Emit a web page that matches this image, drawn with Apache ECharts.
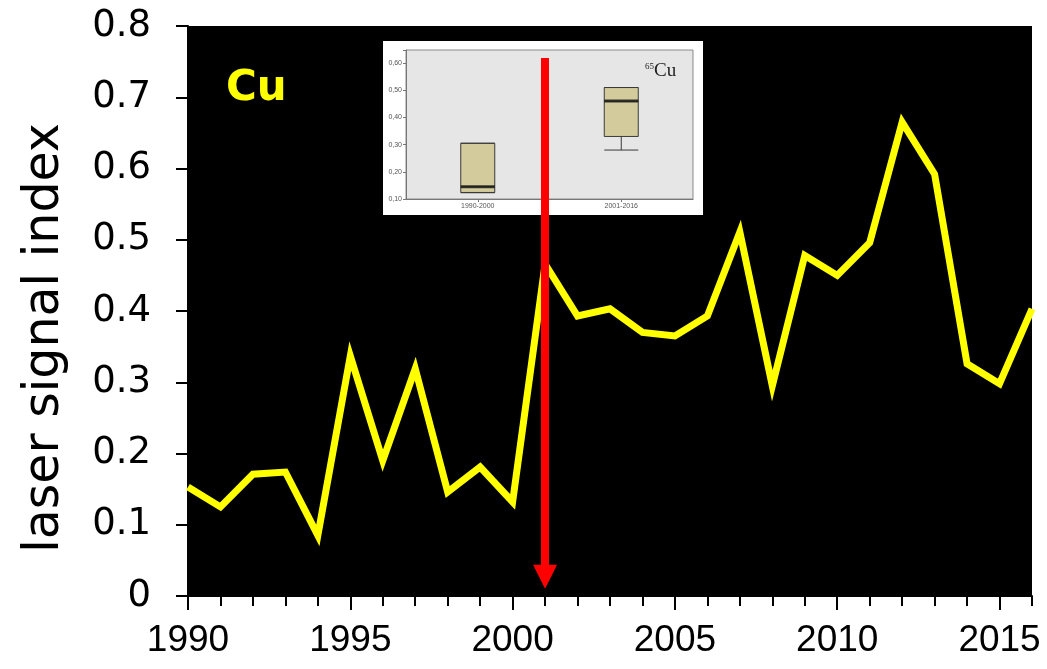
<!DOCTYPE html>
<html>
<head>
<meta charset="utf-8">
<script src="https://cdn.jsdelivr.net/npm/echarts@6/dist/echarts.min.js"></script>
<style>html,body{margin:0;padding:0;background:#fff;}#c{width:1047px;height:669px;}</style>
</head>
<body>
<div id="c"></div>
<script>
// ---- main chart data ----
const years = ['1990','1991','1992','1993','1994','1995','1996','1997','1998','1999','2000','2001','2002','2003','2004','2005','2006','2007','2008','2009','2010','2011','2012','2013','2014','2015','2016'];
const cuValues = [0.153,0.125,0.171,0.174,0.085,0.337,0.190,0.319,0.146,0.181,0.132,0.466,0.393,0.403,0.370,0.365,0.393,0.511,0.295,0.478,0.450,0.496,0.665,0.592,0.326,0.298,0.403];
const yTicks = [0,0.1,0.2,0.3,0.4,0.5,0.6,0.7,0.8];
const xLabelYears = ['1990','1995','2000','2005','2010','2015'];
// red arrow marking the break year
const arrowYear = '2001';
const arrowFrom = 0.755;
const arrowTo = 0.027;
// ---- inset box plot data ----
const insetCategories = ['1990-2000','2001-2016'];
// [min, Q1, median, Q3, max]
const insetBoxes = [[0.123,0.124,0.145,0.305,0.305],[0.28,0.33,0.46,0.51,0.51]];
const insetMedians = [0.145,0.46];
const insetTicks = [0.1,0.2,0.3,0.4,0.5,0.6];

const chart = echarts.init(document.getElementById('c'), null, {renderer:'canvas'});
const option = {
  animation:false,
  backgroundColor:'#ffffff',
  grid:[
    {left:188, right:15, top:26, bottom:73, show:true, backgroundColor:'#000000', borderWidth:0, z:0},
    {left:406, width:287, top:50, height:149, show:true, backgroundColor:'#e6e6e6', borderColor:'#8a8a8a', borderWidth:1, z:2}
  ],
  graphic:[
    {type:'rect', shape:{x:383, y:41, width:320, height:174}, style:{fill:'#ffffff'}, z:1, silent:true},
    {type:'text', left:226, top:68, style:{text:'Cu', fill:'#ffff00', font:'bold 42px "DejaVu Sans"'}, z:5},
    {type:'text', left:645, top:62, z:6, style:{
      text:'{s|65}{b|Cu}', rich:{
        s:{fontSize:9, fontFamily:'Liberation Serif', fill:'#222', verticalAlign:'top', padding:[0,0,9,0]},
        b:{fontSize:19, fontFamily:'Liberation Serif', fill:'#222'}
      }}}
  ],
  xAxis:[
    {type:'category', gridIndex:0, data:years, boundaryGap:false, position:'bottom',
     axisLine:{show:true, lineStyle:{color:'#000', width:2}},
     axisTick:{show:true, interval:0, length:10, lineStyle:{color:'#000', width:2}},
     axisLabel:{show:false}, splitLine:{show:false}, z:1},
    {type:'category', gridIndex:0, data:years, boundaryGap:false, position:'bottom',
     axisLine:{show:false},
     axisTick:{show:true, length:14, interval:function(i,v){return xLabelYears.indexOf(v)>=0;}, lineStyle:{color:'#000', width:2}},
     axisLabel:{show:true, interval:function(i,v){return xLabelYears.indexOf(v)>=0;}, margin:26,
       color:'#000', fontFamily:'Liberation Sans', fontSize:37},
     splitLine:{show:false}, z:1},
    {type:'category', gridIndex:1, data:insetCategories, position:'bottom',
     axisLine:{show:true, lineStyle:{color:'#777', width:1}},
     axisTick:{show:true, alignWithLabel:true, length:3, lineStyle:{color:'#777'}},
     axisLabel:{color:'#555', fontSize:7, fontFamily:'Liberation Sans', margin:4},
     splitLine:{show:false}, z:3}
  ],
  yAxis:[
    {type:'value', gridIndex:0, min:0, max:0.8, interval:0.1,
     name:'laser signal index', nameLocation:'middle', nameGap:118, nameRotate:90,
     nameTextStyle:{color:'#000', fontFamily:'DejaVu Sans', fontSize:49, padding:[0,54,0,0]},
     axisLine:{show:true, lineStyle:{color:'#000', width:2}},
     axisTick:{show:true, length:12, lineStyle:{color:'#000', width:2}},
     axisLabel:{color:'#000', fontFamily:'DejaVu Sans', fontSize:37, margin:37,
       formatter:function(v){var r=Math.round(v*10)/10; return r===0?'0':r.toFixed(1);}},
     splitLine:{show:false}, z:1},
    {type:'value', gridIndex:1, min:0.1, max:0.648, interval:0.1,
     axisLine:{show:true, lineStyle:{color:'#777', width:1}},
     axisTick:{show:true, length:3, lineStyle:{color:'#777'}},
     axisLabel:{color:'#555', fontSize:7, fontFamily:'Liberation Sans', margin:4,
       formatter:function(v){ if(v>0.61) return ''; return (Math.round(v*10)/10).toFixed(2).replace('.',','); }},
     splitLine:{show:false}, z:3}
  ],
  series:[
    {type:'line', xAxisIndex:0, yAxisIndex:0, data:cuValues, showSymbol:false, symbol:'none',
     lineStyle:{color:'#ffff00', width:7, join:'miter'}, z:3},
    {type:'boxplot', xAxisIndex:2, yAxisIndex:1, data:insetBoxes, boxWidth:[34,34],
     itemStyle:{color:'#d3cb9b', borderColor:'#3a3a3a', borderWidth:1}, z:4},
    {type:'scatter', xAxisIndex:2, yAxisIndex:1, data:insetMedians, symbol:'rect', symbolSize:[34,3],
     itemStyle:{color:'#111'}, z:5},
    {type:'line', xAxisIndex:0, yAxisIndex:0, data:[], z:10,
     markLine:{silent:true, symbol:['none','triangle'], symbolSize:[24,24],
       lineStyle:{color:'#ff0000', width:8, type:'solid'}, label:{show:false},
       data:[[{coord:[arrowYear, arrowFrom]},{coord:[arrowYear, arrowTo]}]]}}
  ]
};
chart.setOption(option);
</script>
</body>
</html>
